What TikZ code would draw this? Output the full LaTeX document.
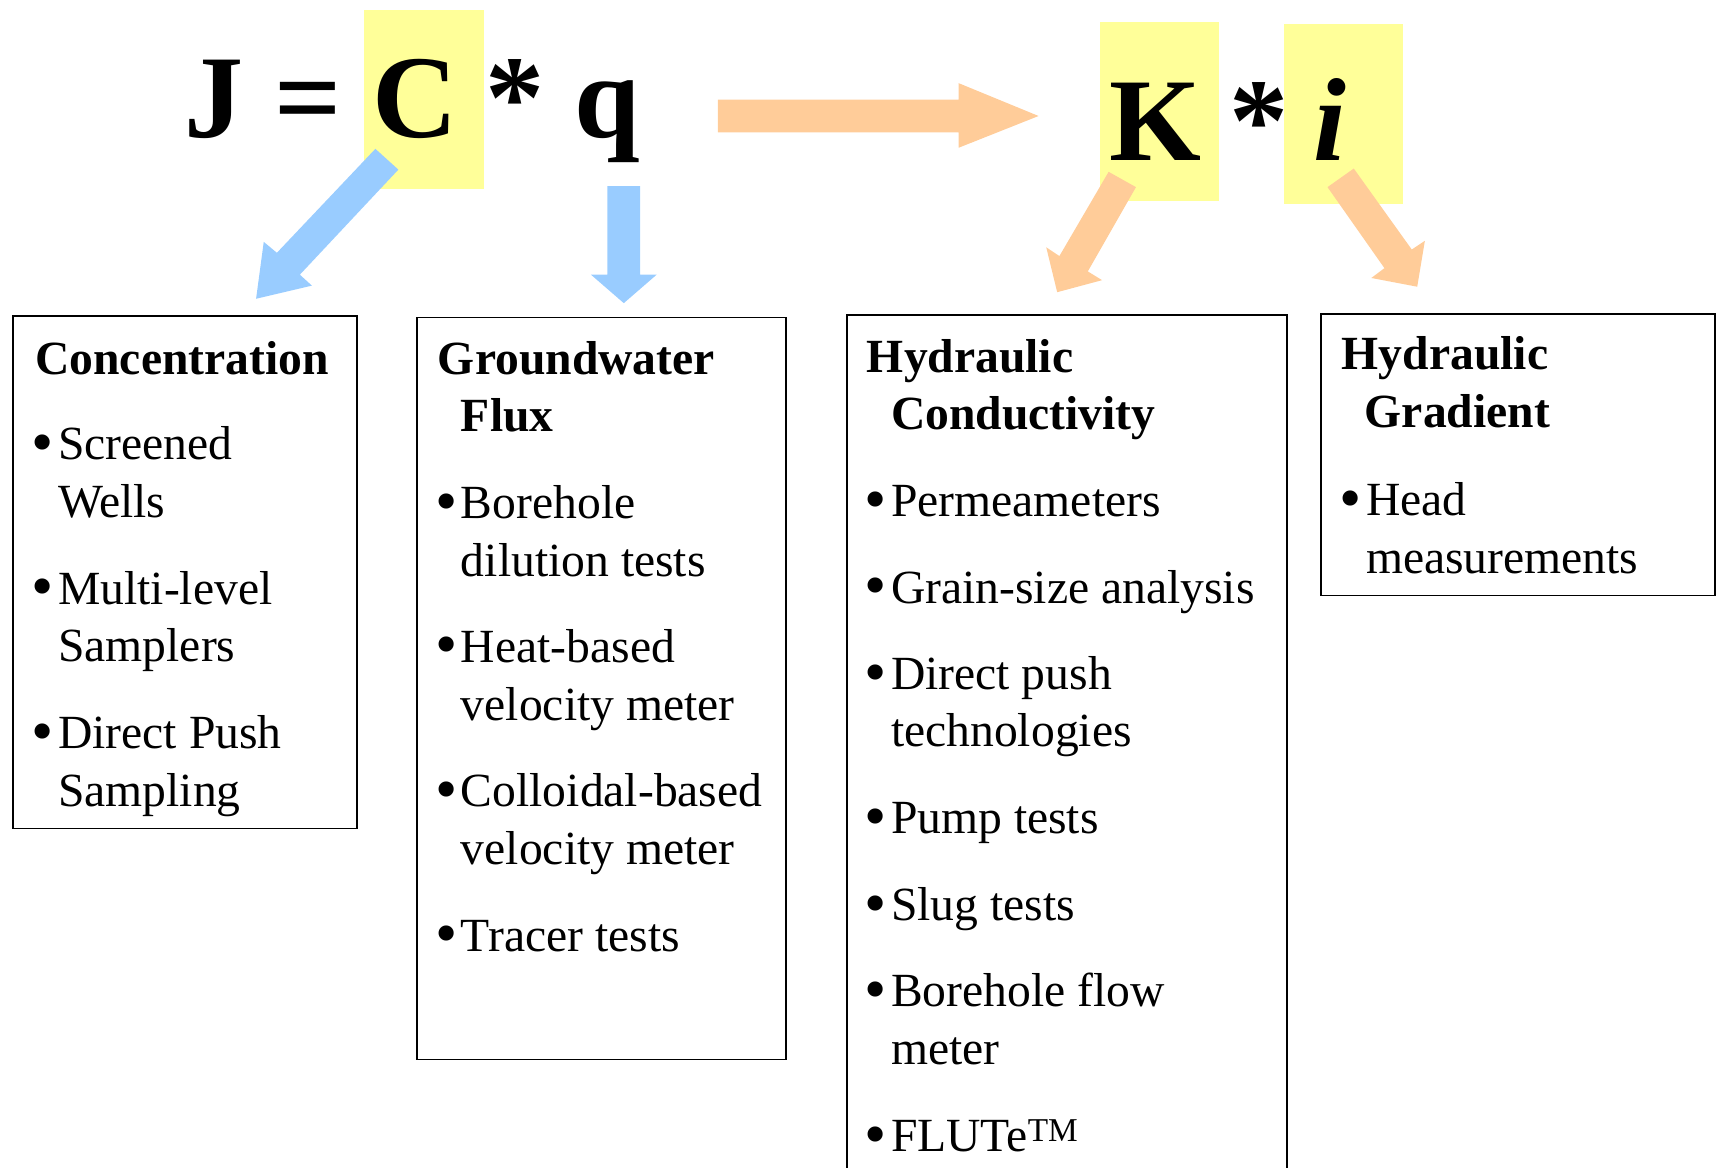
\documentclass[tikz,border=0pt]{standalone}
\usepackage{fontspec}
\setmainfont{Liberation Serif}
\definecolor{ylw}{HTML}{FFFF99}
\definecolor{blu}{HTML}{99CCFF}
\definecolor{org}{HTML}{FFCC99}
\newcommand{\txf}{\fontsize{43.5}{52.5}\selectfont}
\newcommand{\bulf}{\fontsize{58}{60}\selectfont}
\newcommand{\eqf}{\fontsize{108}{120}\selectfont\bfseries}
\begin{document}
\begin{tikzpicture}[x=1pt,y=-1pt,
  hd/.style={anchor=base west,inner sep=0pt,font=\txf\bfseries},
  tx/.style={anchor=base west,inner sep=0pt,font=\txf},
  bul/.style={anchor=base west,inner sep=0pt,font=\bulf,yshift=-3.5pt},
  eq/.style={anchor=base,inner sep=0pt,font=\eqf},
  frame/.style={draw=black,line width=1.5pt},
  hl/.style={fill=ylw,draw=none}]
\useasboundingbox (0,0) rectangle (1568,1067);
% highlight boxes
\fill[hl] (333,9) rectangle (442,173);
\fill[hl] (1005,20) rectangle (1114,184);
\fill[hl] (1173,22) rectangle (1282,186);
% equation
\node[eq] (eqJ) at (196,126) {J};
\node[eq] (eqEq) at (282,126) {=};
\node[eq] (eqC) at (379,126) {C};
\node[eq] (eqS1) at (471,126) {*};
\node[eq] (eqq) at (555,126) {q};
\node[eq] (eqK) at (1056,147) {K};
\node[eq] (eqS2) at (1150,147) {*};
\node[eq,font=\eqf\itshape] (eqi) at (1215,147) {i};
% arrows
\fill[org] (656,91) -- (876,91) -- (876,76) -- (949,106) -- (876,135) -- (876,121) -- (656,121) -- cycle;
\fill[blu] (343,136) -- (364,155) -- (274,251) -- (285,261) -- (234,273) -- (241,221) -- (253,231) -- cycle;
\fill[blu] (555,170) -- (585,170) -- (585,251) -- (600,251) -- (570,277) -- (540,251) -- (555,251) -- cycle;
\fill[org] (1013,157) -- (1038,171) -- (994,248) -- (1007,256) -- (966,267) -- (956,226) -- (968,234) -- cycle;
\fill[org] (1237,154) -- (1213,171) -- (1265,245) -- (1253,254) -- (1295,262) -- (1302,220) -- (1290,228) -- cycle;
% boxes
\draw[frame] (12,289) rectangle (326,757);
\draw[frame] (381,290) rectangle (718,968);
\draw[frame] (774,1075) -- (774,288) -- (1176,288) -- (1176,1075);
\draw[frame] (1207,287) rectangle (1567,544);
% box 1
\node[hd] (c0) at (32,342) {Concentration};
\node[bul] (c1b) at (29,420) {•};
\node[tx] (c1a) at (53,420) {Screened};
\node[tx] (c1c) at (53,473) {Wells};
\node[bul] (c2b) at (29,552) {•};
\node[tx] (c2a) at (53,552) {Multi-level};
\node[tx] (c2c) at (53,604) {Samplers};
\node[bul] (c3b) at (29,684) {•};
\node[tx] (c3a) at (53,684) {Direct Push};
\node[tx] (c3c) at (53,737) {Sampling};
% box 2
\node[hd] (g0) at (400,342) {Groundwater};
\node[hd] (g0b) at (421,394) {Flux};
\node[bul] (g1b) at (398,474) {•};
\node[tx] (g1a) at (421,474) {Borehole};
\node[tx] (g1c) at (421,527) {dilution tests};
\node[bul] (g2b) at (398,605) {•};
\node[tx] (g2a) at (421,605) {Heat-based};
\node[tx] (g2c) at (421,658) {velocity meter};
\node[bul] (g3b) at (398,737) {•};
\node[tx] (g3a) at (421,737) {Colloidal-based};
\node[tx] (g3c) at (421,790) {velocity meter};
\node[bul] (g4b) at (398,869) {•};
\node[tx] (g4a) at (421,869) {Tracer tests};
% box 3
\node[hd] (k0) at (792,340) {Hydraulic};
\node[hd] (k0b) at (814,392) {Conductivity};
\node[bul] (k1b) at (790,472) {•};
\node[tx] (k1a) at (814,472) {Permeameters};
\node[bul] (k2b) at (790,551) {•};
\node[tx] (k2a) at (814,551) {Grain-size analysis};
\node[bul] (k3b) at (790,630) {•};
\node[tx] (k3a) at (814,630) {Direct push};
\node[tx] (k3c) at (814,682) {technologies};
\node[bul] (k4b) at (790,762) {•};
\node[tx] (k4a) at (814,762) {Pump tests};
\node[bul] (k5b) at (790,841) {•};
\node[tx] (k5a) at (814,841) {Slug tests};
\node[bul] (k6b) at (790,920) {•};
\node[tx] (k6a) at (814,920) {Borehole flow};
\node[tx] (k6c) at (814,973) {meter};
\node[bul] (k7b) at (790,1052) {•};
\node[tx] (k7a) at (814,1052) {FLUTe\textsuperscript{TM}};
% box 4
\node[hd] (h0) at (1226,338) {Hydraulic};
\node[hd] (h0b) at (1247,391) {Gradient};
\node[bul] (h1b) at (1224,471) {•};
\node[tx] (h1a) at (1248,471) {Head};
\node[tx] (h1c) at (1248,524) {measurements};
\end{tikzpicture}
\end{document}
